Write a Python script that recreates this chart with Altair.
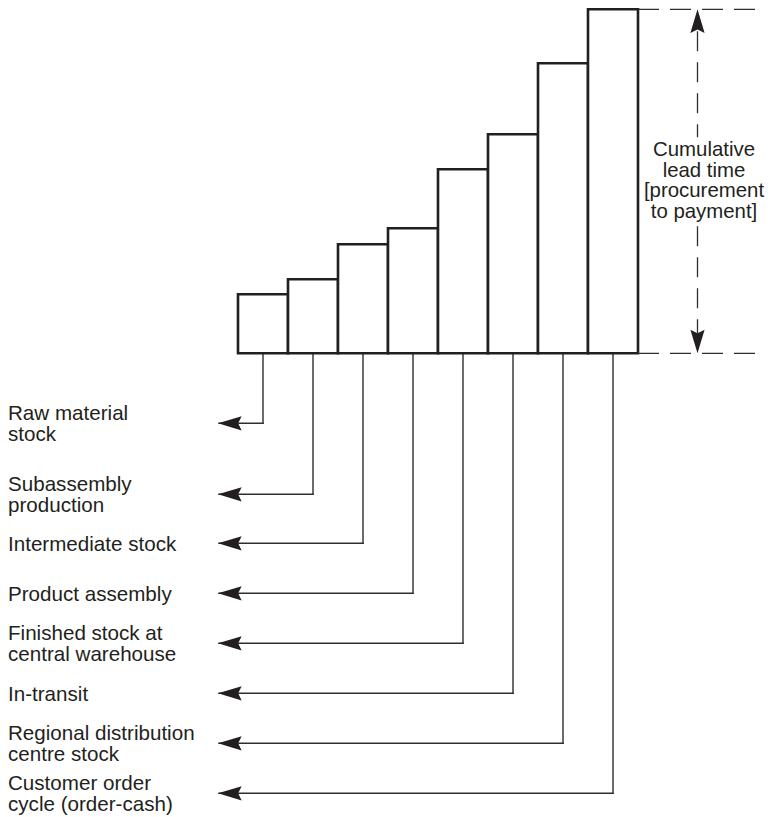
import altair as alt
import pandas as pd

# ---- data ----
stages = [
    "Raw material\nstock",
    "Subassembly\nproduction",
    "Intermediate stock",
    "Product assembly",
    "Finished stock at\ncentral warehouse",
    "In-transit",
    "Regional distribution\ncentre stock",
    "Customer order\ncycle (order-cash)",
]
lead_times = [59, 74, 109, 125, 184, 219, 290, 344]
label_levels = [-70, -141, -190, -240, -290, -340, -390, -440]
annotation = "Cumulative\nlead time\n[procurement\nto payment]"

INK = "#231f20"
LINE = "#2e2e2e"
FONT = "Liberation Sans"
LH = 20.8

n = len(stages)
df = pd.DataFrame({
    "stage": stages,
    "x0": [i for i in range(n)],
    "x1": [i + 1 for i in range(n)],
    "xc": [i + 0.5 for i in range(n)],
    "lead": lead_times,
    "level": label_levels,
    "zero": [0] * n,
})

cum = lead_times[-1]
ann = pd.DataFrame({"top": [cum], "zero": [0], "text": [annotation]})

XS = alt.Scale(domain=[-4.6, 10.54], nice=False, zero=False)
YS = alt.Scale(domain=[-463.7, 345.3], nice=False, zero=False)


def xf(field):
    return alt.X(field, type="quantitative", scale=XS, axis=None)


def yf(field):
    return alt.Y(field, type="quantitative", scale=YS, axis=None)


LEFT_ARROW = "M0,0L2,-0.6L1.7,0L2,0.6Z"
UP_ARROW = "M0,0L-0.6,2L0,1.7L0.6,2Z"
DOWN_ARROW = "M0,0L-0.6,-2L0,-1.7L0.6,-2Z"

base = alt.Chart(df).transform_calculate(
    tip="-0.4", hstart="-0.38", labx="-4.6",
    laby="datum.level + (split(datum.stage, '\\n').length - 1) * %s" % (LH / 2),
)

v_conn = base.mark_rule(color=LINE, strokeWidth=1.4, strokeCap="square").encode(
    x=xf("xc"), y=yf("zero"), y2=alt.Y2("level")
)
h_conn = base.mark_rule(color=LINE, strokeWidth=1.4, strokeCap="square").encode(
    x=xf("hstart"), x2=alt.X2("xc"), y=yf("level")
)
heads = base.mark_point(shape=LEFT_ARROW, size=560, filled=True, opacity=1,
                        color=INK, strokeWidth=0).encode(
    x=xf("tip"), y=yf("level")
)
bars = base.mark_rect(fill="white", stroke=INK, strokeWidth=2.6).encode(
    x=xf("x0"), x2=alt.X2("x1"), y=yf("zero"), y2=alt.Y2("lead")
)
labels = base.mark_text(align="left", baseline="middle", font=FONT, fontSize=20.6,
                        lineBreak="\n", lineHeight=LH, dy=1.3, color=INK).encode(
    x=xf("labx"), y=yf("laby"), text="stage:N"
)

AX = 9.19
abase = alt.Chart(ann).transform_calculate(
    dl=str(n), dr="10.38", ax=str(AX), tx="9.32", ty="203.4",
    vt1="datum.top - 22", vt2="216", vb1="127", vb2="20",
)
dash_top = abase.mark_rule(color=LINE, strokeWidth=1.3, strokeDash=[21, 11]).encode(
    x=xf("dl"), x2=alt.X2("dr"), y=yf("top")
)
dash_bot = abase.mark_rule(color=LINE, strokeWidth=1.3, strokeDash=[21, 11]).encode(
    x=xf("dl"), x2=alt.X2("dr"), y=yf("zero")
)
v_top = abase.mark_rule(color=LINE, strokeWidth=1.3, strokeDash=[20, 11]).encode(
    x=xf("ax"), y=yf("vt1"), y2=alt.Y2("vt2")
)
v_bot = abase.mark_rule(color=LINE, strokeWidth=1.3, strokeDash=[20, 11]).encode(
    x=xf("ax"), y=yf("vb1"), y2=alt.Y2("vb2")
)
up_head = abase.mark_point(shape=UP_ARROW, size=560, filled=True, opacity=1,
                           color=INK, strokeWidth=0).encode(x=xf("ax"), y=yf("top"))
down_head = abase.mark_point(shape=DOWN_ARROW, size=560, filled=True, opacity=1,
                             color=INK, strokeWidth=0).encode(x=xf("ax"), y=yf("zero"))
ann_text = abase.mark_text(align="center", baseline="middle", font=FONT, fontSize=20.4,
                           lineBreak="\n", lineHeight=LH, color=INK).encode(
    x=xf("tx"), y=yf("ty"), text="text:N"
)

chart = alt.layer(
    v_conn, h_conn, heads, bars, labels,
    dash_top, dash_bot, v_top, v_bot, up_head, down_head, ann_text,
).properties(
    width=757, height=809, padding=0,
    autosize=alt.AutoSizeParams(type="none"),
).configure_view(stroke=None)

chart.save("out.html", embed_options={"renderer": "svg", "actions": False})
